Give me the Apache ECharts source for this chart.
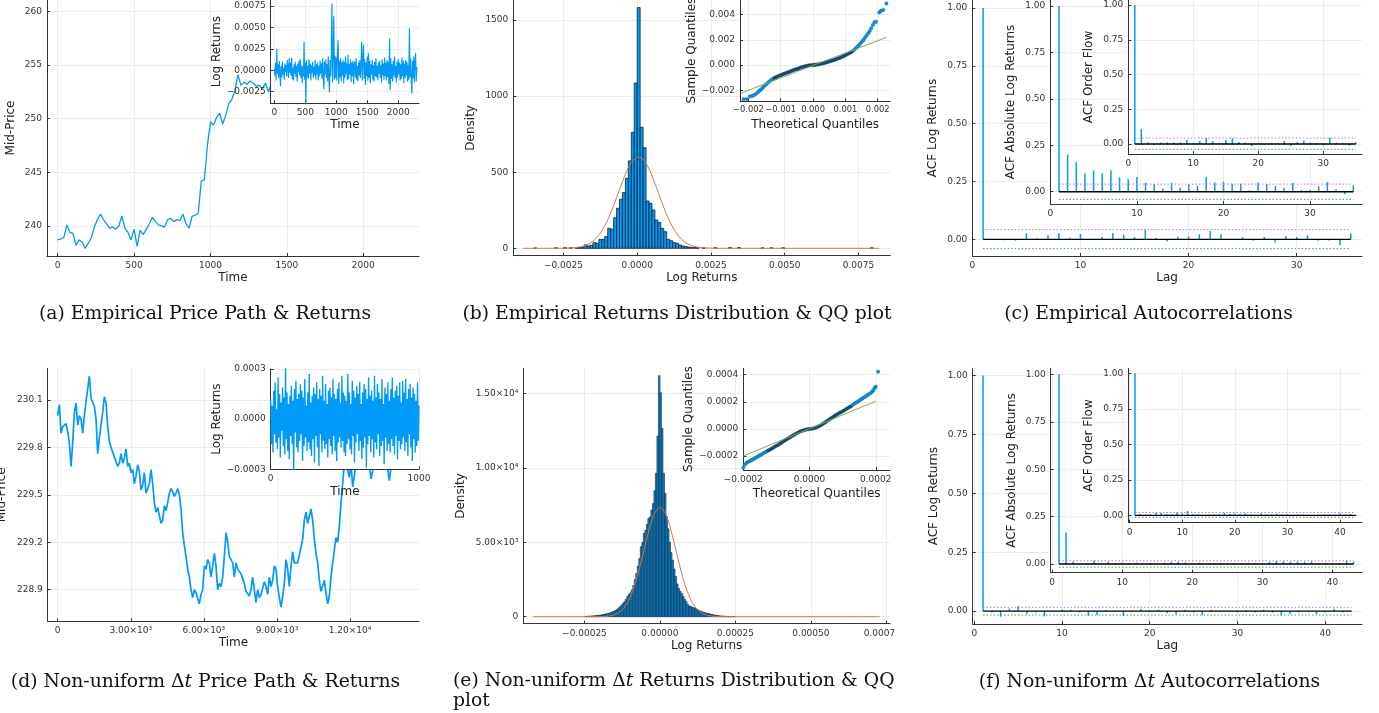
<!DOCTYPE html>
<html><head><meta charset="utf-8">
<script src="https://cdn.jsdelivr.net/npm/echarts@6/dist/echarts.min.js"></script>
<style>html,body{margin:0;padding:0;background:#fff}#c{width:1379px;height:713px}</style>
</head><body><div id="c"></div>
<script>
// ---------------- DATA ----------------
// (a) empirical mid-price path, sampled every 20 time steps
const priceA_t0 = 0, priceA_dt = 20;
const priceA = [238.7,238.8,238.9,240.1,239.4,239.3,238.2,238.7,238.5,237.9,238.4,238.9,239.9,240.6,241.1,240.6,240.2,239.8,239.9,239.7,
240.0,240.9,239.8,239.4,238.7,239.7,238.1,239.6,239.2,239.7,240.2,240.8,240.4,240.1,240.0,239.9,240.6,240.7,240.4,240.6,
240.5,241.1,240.2,239.8,240.9,241.0,241.2,244.2,244.3,247.5,249.7,249.4,250.1,250.5,249.5,250.3,251.4,251.8,252.6,254.1,
253.1,253.4,253.2,253.5,253.3,253.0,253.1,252.8,253.3,252.5,253.3,
253.6,253.9,254.2,253.8,254.5,254.9,254.4,254.0,254.6,255.1,255.3,254.8,254.3,254.7,255.2,255.6,255.0,254.5,254.1,254.4,
254.9,255.3,255.8,255.4,254.9,254.6,255.0,255.5,255.9,256.2,255.7,255.3,254.8,254.4,254.0,254.3,254.7,255.1,254.6,254.2,
253.9,254.3,254.8,255.0,254.6,254.4];
// (a) inset: empirical log returns, sampled every 10 time steps
const retA_t0 = 0, retA_dt = 10;
const retA = [
0.0002,-0.0006,0.0009,-0.0012,0.0025,-0.0004,0.0007,-0.0009,0.0011,-0.0003,
-0.0019,0.0005,-0.0008,0.0010,-0.0005,0.0003,-0.0011,0.0008,-0.0002,0.0006,
-0.0007,0.0012,0.0004,-0.0009,0.0014,-0.0003,0.0009,-0.0006,0.0015,-0.0010,
0.0003,-0.0012,0.0007,-0.0004,0.0010,-0.0008,0.0005,-0.0013,0.0008,-0.0002,
0.0011,-0.0006,0.0013,-0.0009,0.0006,-0.0015,0.0004,-0.0007,0.0033,-0.0011,
0.0009,-0.0040,0.0012,-0.0008,0.0005,-0.0010,0.0013,-0.0004,0.0008,-0.0012,
0.0006,-0.0003,0.0010,-0.0009,0.0004,-0.0006,0.0012,-0.0011,0.0007,-0.0005,
0.0009,-0.0012,0.0005,-0.0007,0.0011,-0.0004,0.0008,-0.0010,0.0014,-0.0006,
-0.0022,0.0010,-0.0005,0.0013,-0.0009,0.0007,-0.0013,0.0016,-0.0008,-0.0026,
0.0012,-0.0007,0.0019,0.0078,-0.0014,0.0021,0.0063,-0.0011,0.0017,-0.0009,
0.0015,-0.0012,0.0022,0.0035,-0.0016,0.0011,-0.0008,0.0014,-0.0013,0.0009,
-0.0006,0.0012,-0.0015,0.0010,-0.0009,0.0016,-0.0004,0.0008,-0.0012,0.0018,
-0.0010,0.0007,-0.0005,0.0013,-0.0014,0.0009,-0.0007,0.0011,-0.0016,0.0006,
0.0010,-0.0008,0.0014,-0.0011,0.0005,-0.0013,0.0009,-0.0006,0.0012,-0.0009,
0.0008,0.0033,-0.0012,0.0015,0.0030,-0.0010,0.0013,-0.0017,0.0009,-0.0007,
0.0016,-0.0012,0.0020,-0.0009,0.0011,-0.0015,0.0007,-0.0005,0.0012,-0.0011,
0.0006,-0.0013,0.0010,-0.0007,0.0014,-0.0008,0.0005,-0.0012,0.0009,-0.0004,
0.0011,-0.0009,0.0006,-0.0014,0.0013,-0.0006,0.0008,-0.0011,0.0015,-0.0007,
0.0009,-0.0012,0.0012,-0.0008,0.0010,-0.0016,0.0037,-0.0023,0.0014,-0.0010,
0.0007,-0.0013,0.0011,-0.0006,0.0016,-0.0009,0.0005,-0.0014,0.0010,-0.0008,
0.0013,-0.0005,0.0009,-0.0012,0.0007,-0.0010,0.0015,-0.0007,0.0011,-0.0015,
0.0008,-0.0009,0.0012,-0.0006,0.0010,-0.0013,0.0006,-0.0011,0.0049,-0.0008,
0.0014,-0.0012,-0.0027,0.0011,-0.0009,0.0016,-0.0014,0.0010,0.0020,-0.0013,
0.0004];
// (b) histogram of empirical log returns: bins of width 0.0001 starting at -0.0035
const histB_start = -0.0035, histB_width = 0.0001;
const histB = [2,0,0,0,0,0,0,3,0,0,4,0,4,0,4,5,5,22,15,20,
37,33,59,59,77,131,125,200,263,322,366,460,574,762,1086,1581,795,661,311,296,
252,186,169,131,109,59,50,37,33,22,15,11,8,6,5,4,0,3,0,0,
0,4,0,0,0,0,5,0,0,5,0,0,0,0,0,0,0,3,0,0,
3,0,0,0,3,0,0,0,0,0,0,0,0,0,0,0,0,0,0,0,
0,0,0,0,0,0,0,0,0,0,0,0,0,0,3];
// (b) fitted normal density (x, density)
const normB_x = [-0.00388,-0.0026,-0.0023,-0.002,-0.0018,-0.0016,-0.0014,-0.0012,-0.001,-0.0008,-0.0006,-0.0004,-0.0002,0,0.00004,0.0002,0.0004,0.0006,0.0008,0.001,0.0012,0.0014,0.0016,0.0018,0.002,0.0023,0.0026,0.003,0.00821];
const normB_y = [0,0.3,1.6,7,15,33,64,114,186,280,385,487,564,598,600,584,522,427,321,221,140,81,43,21,9.4,2.4,0.5,0,0];
// (b) inset QQ plot: theoretical vs sample quantiles
const qqB_theo = [-0.00215,-0.00205,-0.00195,-0.00188,-0.00182,-0.00176,-0.0017,-0.00165,-0.0016,-0.00155,-0.0015,-0.00145,-0.0014,-0.00135,-0.0013,-0.00125,-0.0012,-0.00115,-0.0011,-0.00105,-0.001,-0.00095,-0.0009,-0.00085,-0.0008,-0.00075,-0.0007,-0.00065,-0.0006,-0.00055,-0.0005,-0.00045,-0.0004,-0.00035,-0.0003,-0.00025,-0.0002,-0.00015,-0.0001,-0.00005,0,0.00005,0.0001,0.00015,0.0002,0.00025,0.0003,0.00035,0.0004,0.00045,0.0005,0.00055,0.0006,0.00065,0.0007,0.00075,0.0008,0.00085,0.0009,0.00095,0.001,0.00105,0.0011,0.00115,0.0012,0.00125,0.0013,0.00135,0.0014,0.00145,0.0015,0.00155,0.0016,0.00165,0.0017,0.00175,0.0018,0.00185,0.0019,0.00195,0.00205,0.0021,0.00217,0.00227];
const qqB_samp = [-0.00272,-0.0027,-0.00248,-0.00246,-0.00238,-0.00228,-0.00214,-0.00203,-0.00192,-0.00178,-0.00165,-0.00152,-0.0014,-0.0013,-0.0012,-0.00111,-0.00103,-0.00096,-0.0009,-0.00085,-0.0008,-0.00075,-0.0007,-0.00065,-0.0006,-0.00055,-0.0005,-0.00045,-0.0004,-0.00035,-0.00031,-0.00027,-0.00022,-0.00018,-0.00014,-0.0001,-0.00007,-0.00004,-0.00002,-0.00001,0,0.00001,0.00003,0.00005,0.00008,0.00011,0.00014,0.00017,0.0002,0.00024,0.00028,0.00032,0.00036,0.0004,0.00045,0.0005,0.00055,0.0006,0.00066,0.00072,0.00078,0.00085,0.00092,0.00098,0.00106,0.00116,0.00127,0.0014,0.00153,0.00167,0.00182,0.00198,0.00215,0.00232,0.0025,0.00268,0.00292,0.00318,0.0034,0.00345,0.00418,0.00432,0.00438,0.0049];
const qqB_refX = [-0.00222,0.00227];
const qqB_refY = [-0.00222,0.0022];
// (c) autocorrelations, lags 1..35
const acfC = [1.0,-0.002,-0.004,-0.006,0.026,0.006,0.019,0.027,0.007,0.023,0.0,0.01,0.027,0.02,0.01,0.042,0.006,-0.009,0.012,0.012,0.022,0.036,0.022,0.003,0.009,-0.006,0.01,-0.014,0.014,0.01,0.017,-0.006,-0.005,-0.025,0.026];
const absC = [1.0,0.20,0.16,0.10,0.115,0.10,0.115,0.077,0.067,0.079,0.049,0.04,0.018,0.049,0.022,0.04,0.032,0.079,0.05,0.054,0.043,0.043,0.007,0.05,0.041,0.032,0.022,0.047,0.009,0.009,0.029,0.052,0.014,-0.013,0.034];
const ofC = [1.0,0.107,0.012,-0.007,0.01,0.012,0.01,0.012,0.029,0.005,0.021,0.043,0.019,0.005,0.029,0.04,0.014,0.01,-0.014,0.005,-0.007,0.005,0.003,0.021,-0.014,0.014,0.024,0.01,0.005,-0.01,0.045,0.01,0.005,-0.012,0.012];
const confC = [0.042,-0.040];
const confAbsC = [0.041,-0.041];
const confOfC = [0.043,-0.038];
// (d) non-uniform dt mid-price path
const priceD_t0 = 0, priceD_dt = 68.4;
const priceD = [230.00,230.07,229.89,229.93,229.94,229.95,229.90,229.83,229.68,229.83,230.02,230.08,229.94,230.00,229.98,229.89,230.00,230.09,230.17,230.25,
230.11,230.10,230.06,229.98,229.76,229.86,229.87,230.02,230.12,230.08,229.93,229.84,229.80,229.81,229.74,229.75,229.68,229.70,229.76,229.70,
229.73,229.79,229.68,229.70,229.64,229.66,229.57,229.62,229.69,229.65,229.53,229.56,229.64,229.51,229.51,229.57,229.66,229.57,229.45,229.39,
229.42,229.41,229.32,229.34,229.43,229.40,229.45,229.51,229.54,229.52,229.49,229.51,229.54,229.50,229.41,229.26,229.18,229.11,229.03,228.98,
228.90,228.85,228.90,228.88,228.87,228.81,228.87,228.90,229.05,229.03,229.09,229.07,228.98,229.05,229.13,229.05,228.90,228.94,228.92,228.98,
229.11,229.26,229.20,229.11,229.11,229.07,228.98,229.07,229.03,229.04,229.00,229.01,228.94,228.89,228.90,228.86,228.90,228.98,228.90,228.82,
228.90,228.85,228.87,228.91,228.95,228.92,228.87,228.98,228.92,228.96,229.05,229.03,228.92,228.85,228.79,228.86,228.94,229.09,229.03,228.92,
229.05,229.14,229.07,229.08,229.07,229.12,229.11,229.22,229.34,229.39,229.32,229.31,229.41,229.34,229.22,229.13,229.07,228.96,228.89,228.90,
228.96,228.88,228.81,228.86,228.98,229.07,229.15,229.23,229.20,229.30,229.45,229.57,229.70,229.76,229.66,229.61,229.70,229.55,229.62,229.71,
229.67,229.73,229.71,229.75,229.73,229.80,229.75,229.69,229.60,229.65,229.71,229.78,229.73,229.75,229.71,229.73,229.69,229.73,229.67,229.59,
229.67,229.73,229.72,229.78,229.82,229.86,229.82,229.86,229.84,229.87];
// (d) inset: log returns, every 5 time steps
const retD_t0 = 0, retD_dt = 5;
const retD = [
0.00012,-0.00015,0.00008,-0.0002,0.00017,-0.00009,0.00022,-0.00014,0.00006,-0.00018,0.00025,-0.00011,0.00015,-0.00023,0.0001,-0.00007,0.00019,-0.00016,0.00013,-0.00021,
0.00031,-0.00012,0.00016,-0.00019,0.00009,-0.00024,0.00014,-0.0001,0.0002,-0.00015,0.00011,-0.00032,0.00018,-0.00008,0.00023,-0.00017,0.00012,-0.0002,0.00015,-0.00013,
0.00021,-0.00009,0.00017,-0.00025,0.00013,-0.00016,0.00024,-0.00011,0.00008,-0.00019,0.00016,-0.00014,0.00027,-0.00018,0.0001,-0.00022,0.00014,-0.00012,0.00019,-0.00026,
0.00015,-0.0001,0.00022,-0.00017,0.00012,-0.00028,0.00018,-0.00009,0.00014,-0.0002,0.00026,-0.00013,0.00011,-0.00018,0.00021,-0.00015,0.00009,-0.00023,0.00017,-0.00012,
0.00019,-0.00016,0.00013,-0.00021,0.00024,-0.0001,0.00015,-0.00019,0.00012,-0.00025,0.00018,-0.00014,0.00022,-0.00011,0.0001,-0.00017,0.00026,-0.00013,0.00016,-0.0002,
0.00014,-0.00022,0.00011,-0.00015,0.00027,-0.00012,0.00016,-0.00018,0.00009,-0.00021,0.00023,-0.0001,0.00017,-0.00026,0.00013,-0.00014,0.0002,-0.00009,0.00015,-0.00019,
0.00022,-0.00013,0.00009,-0.00024,0.00016,-0.00017,0.00021,-0.00011,0.00018,-0.00029,0.00012,-0.00015,0.00025,-0.0001,0.00014,-0.0002,0.00017,-0.00012,0.00011,-0.00023,
0.00026,-0.00014,0.00013,-0.00018,0.00021,-0.00009,0.00016,-0.00022,0.00012,-0.00016,0.00024,-0.00013,0.00009,-0.00027,0.00019,-0.00011,0.00015,-0.00019,0.00022,-0.00015,
0.00011,-0.0002,0.00018,-0.00012,0.00025,-0.00016,0.00013,-0.00021,0.00017,-0.0001,0.0002,-0.00024,0.00014,-0.00013,0.00022,-0.00018,0.0001,-0.00015,0.00023,-0.00011,
0.00016,-0.00019,0.00024,-0.00014,0.00012,-0.00022,0.00018,-0.00009,0.00021,-0.00017,0.00013,-0.00025,0.00019,-0.00012,0.00015,-0.0002,0.00011,-0.00016,0.00022,-0.00013,
0.00008];
// (e) histogram: bins of width 0.000005 starting at -0.00025
const histE_start = -0.00025, histE_width = 0.000005;
const histE = [22,28,32,40,45,55,65,75,85,95,110,130,150,175,195,220,250,280,320,360,
410,480,570,660,760,880,1000,1150,1350,1500,1600,1800,2100,2500,2900,3400,3900,4700,5000,5600,
5800,6200,6600,6700,7160,7600,8460,9630,12130,16185,
15040,12650,9630,8280,6720,5900,5000,4300,3800,3200,2700,2200,1900,1700,1550,1350,1150,1000,820,720,
680,640,600,560,500,450,390,350,310,280,250,230,210,180,150,125,105,90,75,62,
50,42,35,28,22,18,14,11,9,7];
const normE_x = [-0.00042,-0.00025,-0.0002,-0.00018,-0.00016,-0.00014,-0.00012,-0.0001,-0.00008,-0.00006,-0.00004,-0.00002,0,0.00002,0.00004,0.00006,0.00008,0.0001,0.00012,0.00014,0.00016,0.00018,0.0002,0.00025,0.000728];
const normE_y = [0,0,6,23,77,224,566,1239,2353,3872,5528,6845,7350,6845,5528,3872,2353,1239,566,224,77,23,6,0,0];
const qqE_theo = [-0.0002,-0.000195,-0.00019,-0.000185,-0.00018,-0.000175,-0.00017,-0.000165,-0.00016,-0.000155,-0.00015,-0.000145,-0.00014,-0.000135,-0.00013,-0.000125,-0.00012,-0.000115,-0.00011,-0.000105,-0.0001,-0.000095,-0.00009,-0.000085,-0.00008,-0.000075,-0.00007,-0.000065,-0.00006,-0.000055,-0.00005,-0.000045,-0.00004,-0.000035,-0.00003,-0.000025,-0.00002,-0.000015,-0.00001,-0.000005,0,
0.000005,0.00001,0.000015,0.00002,0.000025,0.00003,0.000035,0.00004,0.000045,0.00005,0.000055,0.00006,0.000065,0.00007,0.000075,0.00008,0.000085,0.00009,0.000095,0.0001,0.000105,0.00011,0.000115,0.00012,0.000125,0.00013,0.000135,0.00014,0.000145,0.00015,0.000155,0.00016,0.000165,0.00017,0.000175,0.00018,0.000185,0.00019,0.000193,0.000197,0.0002,0.000207];
const qqE_samp = [-0.000285,-0.000262,-0.000249,-0.000242,-0.000235,-0.000229,-0.000222,-0.000215,-0.000208,-0.000201,-0.000194,-0.000187,-0.00018,-0.000173,-0.000166,-0.000159,-0.000152,-0.000145,-0.000138,-0.000131,-0.000124,-0.000117,-0.000109,-0.000101,-0.000093,-0.000085,-0.000077,-0.00007,-0.000062,-0.000055,-0.000048,-0.000041,-0.000034,-0.000027,-0.000021,-0.000016,-0.000011,-0.000007,-0.000004,-0.000002,0,
0.000002,0.000004,0.000007,0.000011,0.000016,0.000022,0.000029,0.000037,0.000045,0.000053,0.000062,0.00007,0.000079,0.000087,0.000095,0.000103,0.00011,0.000117,0.000124,0.000131,0.000138,0.000146,0.000153,0.000161,0.000168,0.000176,0.000185,0.000193,0.000201,0.000209,0.000217,0.000225,0.000233,0.000241,0.00025,0.000258,0.000266,0.000276,0.000288,0.000303,0.000312,0.000422];
const qqE_refX = [-0.0002,0.0002];
const qqE_refY = [-0.000199,0.000204];
// (f) autocorrelations, lags 1..43
const acfF = [1.0,-0.006,-0.024,0.011,0.021,-0.013,-0.006,-0.023,-0.003,0.007,0.006,-0.006,-0.021,-0.017,0.004,-0.003,-0.021,-0.003,0.009,-0.004,0.007,-0.009,-0.014,0.006,-0.006,-0.018,0.006,-0.004,-0.003,-0.006,0.004,-0.006,0.006,-0.006,-0.018,-0.014,-0.006,-0.003,-0.013,-0.006,0.01,-0.006,-0.003];
const absF = [1.0,0.166,0.012,-0.003,0.005,0.018,-0.002,0.01,0.005,0.006,0.004,0.008,0.003,0.005,0.004,0.006,0.01,0.012,0.008,0.004,0.006,0.003,0.005,0.004,0.004,0.005,0.004,0.006,0.005,0.004,0.012,0.016,0.014,0.01,0.012,0.01,0.013,0.004,0.006,0.003,0.005,0.017,0.012];
const ofF = [1.0,0.01,0.004,0.006,0.018,0.016,0.008,0.007,0.02,0.015,0.03,0.008,0.006,0.004,0.005,0.006,0.007,0.018,0.01,0.012,0.009,0.014,0.006,0.004,0.015,0.006,0.008,0.011,0.005,0.01,0.004,0.006,0.005,0.004,-0.006,0.004,0.006,0.005,0.004,0.012,0.006,0.01,0.004];
const confF = [0.016,-0.017];
const confAbsF = [0.017,-0.017];
const confOfF = [0.02,-0.014];
// tick values
const ticksA_x = [0,500,1000,1500,2000], ticksA_y = [240,245,250,255,260];
const ticksAi_x = [0,500,1000,1500,2000], ticksAi_y = [-0.0025,0,0.0025,0.005,0.0075];
const ticksB_x = [-0.0025,0,0.0025,0.005,0.0075], ticksB_y = [0,500,1000,1500];
const ticksBi_x = [-0.002,-0.001,0,0.001,0.002], ticksBi_y = [-0.002,0,0.002,0.004];
const ticksC_x = [0,10,20,30], ticksC_y = [0,0.25,0.5,0.75,1];
const ticksD_x = [0,3000,6000,9000,12000], ticksD_y = [228.9,229.2,229.5,229.8,230.1];
const ticksDi_x = [0,1000], ticksDi_y = [-0.0003,0,0.0003];
const ticksE_x = [-0.00025,0,0.00025,0.0005,0.00075], ticksE_y = [0,5000,10000,15000];
const ticksEi_x = [-0.0002,0,0.0002], ticksEi_y = [-0.0002,0,0.0002,0.0004];
const ticksF_x = [0,10,20,30,40], ticksF_y = [0,0.25,0.5,0.75,1];

// ---------------- STYLE / BUILD ----------------
const SANS = 'DejaVu Sans', SERIF = 'DejaVu Serif';
const BLUE = '#009af9', DARKQQ = '#1b4f7a', ORANGE = '#e36f47', GREEN = '#3da44d', PURPLE = '#c271d2', QQLINE = '#7fae45';
const minus = s => s.replace('-', '\u2212');
const fx = d => v => minus(Number(v).toFixed(d));
const fint = v => minus(String(Math.round(v)));
const SUP = {'3':'\u00b3','4':'\u2074','5':'\u2075'};
const fsci = v => { if (Math.abs(v) < 1e-12) return '0'; const e = Math.floor(Math.log10(Math.abs(v)) + 1e-9); const m = v / Math.pow(10, e); return m.toFixed(2) + '\u00d710' + SUP[String(e)]; };
const fE_x = v => (v > 0.0007 ? '{cut|0.0007}' : minus(Number(v).toFixed(5)));

const grids = [], xAxes = [], yAxes = [], series = [];
function addPanel(rect, layer, xa, ya) {
  const gi = grids.length;
  const z = layer * 10;
  grids.push({ left: rect[0], top: rect[1], width: rect[2], height: rect[3], show: layer > 0, backgroundColor: '#ffffff', borderWidth: 0, z: z, containLabel: false, outerBoundsMode: 'none' });
  xAxes.push(axis('x', gi, xa, z + 1));
  yAxes.push(axis('y', gi, ya, z + 1));
  return { gi: gi, z: z + 2 };
}
function axis(dim, gi, a, z) {
  const fs = a.fs || 9;
  return {
    type: 'value', gridIndex: gi, min: a.min, max: a.max, z: z,
    position: dim === 'x' ? 'bottom' : 'left',
    name: a.name || '', nameLocation: 'middle', nameGap: a.gap || 0,
    nameTextStyle: { fontFamily: SANS, fontSize: 12, color: '#222' },
    axisLine: { show: true, onZero: false, lineStyle: { color: '#333', width: 1 } },
    axisTick: { show: true, inside: true, length: 3, customValues: a.ticks, lineStyle: { color: '#333', width: 1 } },
    axisLabel: { show: true, customValues: a.ticks, formatter: a.fmt, fontFamily: SANS, fontSize: fs, color: '#333', margin: 5,
      hideOverlap: false, showMinLabel: true, showMaxLabel: true,
      rich: { cut: { fontFamily: SANS, fontSize: fs, color: '#333', padding: [0, 14, 0, 0] } } },
    splitLine: { show: true, customValues: a.ticks, lineStyle: { color: '#ececec', width: 1 } },
    splitArea: { show: false }
  };
}
function lineS(p, data, color, width, extra) {
  return Object.assign({ type: 'line', xAxisIndex: p.gi, yAxisIndex: p.gi, z: p.z, data: data, showSymbol: false, symbol: 'none', silent: true, clip: true,
    lineStyle: { color: color, width: width }, itemStyle: { color: color } }, extra || {});
}
function seq(vals, t0, dt) { return vals.map((v, i) => [t0 + i * dt, v]); }
function pairs(xs, ys) { return xs.map((x, i) => [x, ys[i]]); }
function histS(p, start, width, vals, lw) {
  const data = [];
  vals.forEach((h, k) => { if (h > 0) data.push([start + k * width, start + (k + 1) * width, h]); });
  return { type: 'custom', xAxisIndex: p.gi, yAxisIndex: p.gi, z: p.z, silent: true, clip: true, data: data,
    encode: { x: [0, 1], y: 2 },
    renderItem: (params, api) => {
      const a = api.coord([api.value(0), api.value(2)]);
      const b = api.coord([api.value(1), 0]);
      return { type: 'rect', shape: { x: a[0], y: a[1], width: b[0] - a[0], height: b[1] - a[1] },
        style: { fill: BLUE, stroke: '#10222e', lineWidth: lw } };
    } };
}
function stemS(p, vals) {
  return { type: 'custom', xAxisIndex: p.gi, yAxisIndex: p.gi, z: p.z, silent: true, clip: true,
    data: vals.map((v, i) => [i + 1, v]), encode: { x: 0, y: 1 },
    renderItem: (params, api) => {
      const a = api.coord([api.value(0), 0]);
      const b = api.coord([api.value(0), api.value(1)]);
      return { type: 'line', shape: { x1: a[0], y1: a[1], x2: b[0], y2: b[1] }, style: { stroke: BLUE, lineWidth: 1.5 } };
    } };
}
function acfPanel(p, vals, conf) {
  const n = vals.length;
  series.push(stemS(p, vals));
  series.push(lineS(p, [[1, 0], [n, 0]], '#000', 1.3));
  series.push(lineS(p, [[1, conf[0]], [n, conf[0]]], PURPLE, 1, { lineStyle: { color: PURPLE, width: 1, type: [1.5, 2] } }));
  series.push(lineS(p, [[1, conf[1]], [n, conf[1]]], GREEN, 1, { lineStyle: { color: GREEN, width: 1, type: [1.5, 2] } }));
}
function qqS(p, xs, ys, darkLim) {
  return { type: 'scatter', xAxisIndex: p.gi, yAxisIndex: p.gi, z: p.z, silent: true, symbolSize: 3.5,
    data: pairs(xs, ys),
    itemStyle: { color: params => (Math.abs(params.value[0]) < darkLim ? DARKQQ : BLUE), borderColor: 'rgba(0,40,80,0.5)', borderWidth: 0.5, opacity: 1 } };
}

// (a)
let p = addPanel([47, 0, 372, 256], 0,
  { min: -70, max: 2365, ticks: ticksA_x, fmt: fint, name: 'Time', gap: 16 },
  { min: 237.2, max: 261.05, ticks: ticksA_y, fmt: fint, name: 'Mid-Price', gap: 30 });
series.push(lineS(p, seq(priceA, priceA_t0, priceA_dt), BLUE, 1.3));
p = addPanel([270.7, 0, 148.3, 103.3], 1,
  { min: -58, max: 2335, ticks: ticksAi_x, fmt: fint, name: 'Time', gap: 16 },
  { min: -0.00385, max: 0.0082, ticks: ticksAi_y, fmt: fx(4), name: 'Log Returns', gap: 38 });
series.push(lineS(p, seq(retA, retA_t0, retA_dt), BLUE, 1.15));
// (b)
p = addPanel([513.3, 0, 377, 255.7], 0,
  { min: -0.0042, max: 0.00858, ticks: ticksB_x, fmt: fx(4), name: 'Log Returns', gap: 16 },
  { min: -48.6, max: 1631, ticks: ticksB_y, fmt: fint, name: 'Density', gap: 36 });
series.push(histS(p, histB_start, histB_width, histB, 0.8));
series.push(lineS(p, pairs(normB_x, normB_y), ORANGE, 1, { smooth: 0.3 }));
p = addPanel([740, 0, 150.3, 101.3], 1,
  { min: -0.00226, max: 0.00239, ticks: ticksBi_x, fmt: fx(3), name: 'Theoretical Quantiles', gap: 18, fs: 8.3 },
  { min: -0.00288, max: 0.00517, ticks: ticksBi_y, fmt: fx(3), name: 'Sample Quantiles', gap: 34 });
series.push(qqS(p, qqB_theo, qqB_samp, 0.00125));
series.push(lineS({ gi: p.gi, z: p.z + 1 }, pairs(qqB_refX, qqB_refY), QQLINE, 1));
// (c)
p = addPanel([972.3, 0, 389.7, 256], 0,
  { min: 0, max: 36.04, ticks: ticksC_x, fmt: fint, name: 'Lag', gap: 16 },
  { min: -0.072, max: 1.0346, ticks: ticksC_y, fmt: fx(2), name: 'ACF Log Returns', gap: 33 });
acfPanel(p, acfC, confC);
p = addPanel([1050.3, 0, 311.7, 204], 1,
  { min: 0, max: 36.0, ticks: ticksC_x, fmt: fint },
  { min: -0.066, max: 1.032, ticks: ticksC_y, fmt: fx(2), name: 'ACF Absolute Log Returns', gap: 33 });
acfPanel(p, absC, confAbsC);
p = addPanel([1128.3, 0, 233.7, 154], 2,
  { min: 0, max: 35.95, ticks: ticksC_x, fmt: fint },
  { min: -0.072, max: 1.036, ticks: ticksC_y, fmt: fx(2), name: 'ACF Order Flow', gap: 33 });
acfPanel(p, ofC, confOfC);
// (d)
p = addPanel([47.7, 368.3, 371.3, 253], 0,
  { min: -410, max: 14830, ticks: ticksD_x, fmt: fsci, name: 'Time', gap: 16 },
  { min: 228.70, max: 230.30, ticks: ticksD_y, fmt: fx(1), name: 'Mid-Price', gap: 40 });
series.push(lineS(p, seq(priceD, priceD_t0, priceD_dt), BLUE, 1.7));
p = addPanel([270.7, 369, 148.3, 100.3], 1,
  { min: 0, max: 1000, ticks: ticksDi_x, fmt: fint, name: 'Time', gap: 17 },
  { min: -0.0003, max: 0.0003, ticks: ticksDi_y, fmt: fx(4), name: 'Log Returns', gap: 38 });
series.push(lineS(p, seq(retD, retD_t0, retD_dt), BLUE, 1.35));
// (e)
p = addPanel([523.3, 368.3, 366.7, 255.4], 0,
  { min: -0.0004526, max: 0.000762, ticks: ticksE_x, fmt: fE_x, name: 'Log Returns', gap: 16 },
  { min: -470, max: 16679, ticks: ticksE_y, fmt: fsci, name: 'Density', gap: 56 });
series.push(histS(p, histE_start, histE_width, histE, 0.6));
series.push(lineS(p, pairs(normE_x, normE_y), ORANGE, 1, { smooth: 0.3 }));
p = addPanel([743.3, 368.3, 146.7, 101.7], 1,
  { min: -0.0002, max: 0.000243, ticks: ticksEi_x, fmt: fx(4), name: 'Theoretical Quantiles', gap: 18 },
  { min: -0.000302, max: 0.000447, ticks: ticksEi_y, fmt: fx(4), name: 'Sample Quantiles', gap: 38 });
series.push(qqS(p, qqE_theo, qqE_samp, 0.00013));
series.push(lineS({ gi: p.gi, z: p.z + 1 }, pairs(qqE_refX, qqE_refY), QQLINE, 1));
// (f)
p = addPanel([972.7, 368.3, 389.3, 255.7], 0,
  { min: -0.18, max: 44.2, ticks: ticksF_x, fmt: fint, name: 'Lag', gap: 16 },
  { min: -0.055, max: 1.031, ticks: ticksF_y, fmt: fx(2), name: 'ACF Log Returns', gap: 33 });
acfPanel(p, acfF, confF);
p = addPanel([1050.7, 368.3, 311.3, 204.4], 1,
  { min: -0.19, max: 44.2, ticks: ticksF_x, fmt: fint },
  { min: -0.046, max: 1.032, ticks: ticksF_y, fmt: fx(2), name: 'ACF Absolute Log Returns', gap: 33 });
acfPanel(p, absF, confAbsF);
p = addPanel([1128.3, 368.3, 233.7, 154.4], 2,
  { min: -0.27, max: 44.2, ticks: ticksF_x, fmt: fint },
  { min: -0.052, max: 1.035, ticks: ticksF_y, fmt: fx(2), name: 'ACF Order Flow', gap: 33 });
acfPanel(p, ofF, confOfF);

// captions
const CAPFS = 18.8;
const capStyle = { fontFamily: SERIF, fontSize: CAPFS, fill: '#111' };
const rich = { i: { fontFamily: SERIF, fontSize: CAPFS, fontStyle: 'italic', fill: '#111', color: '#111' } };
function cap(x, y, text, align, vAlign) {
  return { type: 'text', x: x, y: y, silent: true, z: 100,
    style: Object.assign({ text: text, align: align || 'center', verticalAlign: vAlign || 'middle', textAlign: align || 'center', textVerticalAlign: vAlign || 'middle', lineHeight: 20, rich: rich }, capStyle) };
}
const graphic = [
  cap(205, 314, '(a) Empirical Price Path & Returns'),
  cap(677, 314, '(b) Empirical Returns Distribution & QQ plot'),
  cap(1148.5, 314, '(c) Empirical Autocorrelations'),
  cap(205.5, 682, '(d) Non-uniform \u0394{i|t} Price Path & Returns'),
  cap(453, 671, '(e) Non-uniform \u0394{i|t} Returns Distribution & QQ\nplot', 'left', 'top'),
  cap(1149.5, 682, '(f) Non-uniform \u0394{i|t} Autocorrelations')
];

const chart = echarts.init(document.getElementById('c'), null, { renderer: 'canvas', width: 1379, height: 713 });
chart.setOption({
  animation: false,
  backgroundColor: '#ffffff',
  grid: grids, xAxis: xAxes, yAxis: yAxes, series: series, graphic: graphic
});
</script></body></html>
